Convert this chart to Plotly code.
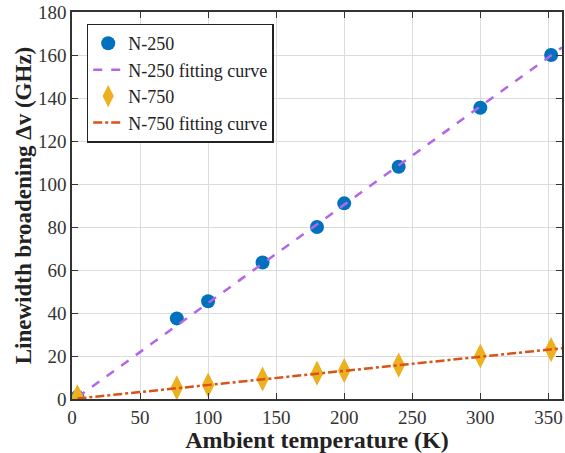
import plotly.graph_objects as go

temp_250 = [4, 77, 100, 140, 180, 200, 240, 300, 352]
lw_250 = [1.0, 37.5, 45.5, 63.5, 80, 91, 108, 135.5, 160]
temp_750 = [4, 77, 100, 140, 180, 200, 240, 300, 352]
lw_750 = [1.0, 5.2, 6.5, 9.3, 12, 13.2, 15.8, 20, 23]
fit_x = [4, 360]
fit_250 = [0.8, 163.5]
fit_750 = [0.2, 23.6]

serif = "Times New Roman, Liberation Serif, Tinos, serif"

fig = go.Figure()
fig.add_trace(go.Scatter(x=temp_250, y=lw_250, mode="markers", name="N-250",
                         marker=dict(symbol="circle", size=14, color="#0072BD")))
fig.add_trace(go.Scatter(x=fit_x, y=fit_250, mode="lines", name="N-250 fitting curve",
                         line=dict(color="#B366E6", width=2.5, dash="dash")))
fig.add_trace(go.Scatter(x=temp_750, y=lw_750, mode="markers", name="N-750",
                         marker=dict(symbol="diamond-tall", size=18, color="#EDB120")))
fig.add_trace(go.Scatter(x=fit_x, y=fit_750, mode="lines", name="N-750 fitting curve",
                         line=dict(color="#D95319", width=2.5, dash="dashdot")))

axis_common = dict(showgrid=True, gridcolor="#DCDCDC", gridwidth=1,
                   showline=True, linecolor="#333333", linewidth=1.5, mirror="ticks",
                   ticks="inside", ticklen=6, tickcolor="#333333", zeroline=False,
                   tickfont=dict(family=serif, size=19, color="#333333"))

fig.update_layout(
    width=565, height=453,
    margin=dict(l=72, r=1, t=12, b=54),
    plot_bgcolor="white", paper_bgcolor="white",
    showlegend=True,
    legend=dict(x=0.03, y=0.97, xanchor="left", yanchor="top",
                bgcolor="white", bordercolor="#222222", borderwidth=1.5,
                font=dict(family=serif, size=18, color="#222222"),
                tracegroupgap=0, itemwidth=30),
    xaxis=dict(range=[0, 360], tickvals=[0, 50, 100, 150, 200, 250, 300, 350],
               ticklabelstandoff=0,
               title=dict(text="<b>Ambient temperature (K)</b>", standoff=3,
                          font=dict(family=serif, size=24, color="#222222")),
               **axis_common),
    yaxis=dict(range=[0, 180], tickvals=list(range(0, 181, 20)),
               title=dict(text="<b>Linewidth broadening Δv (GHz)</b>", standoff=0,
                          font=dict(family=serif, size=23, color="#222222")),
               **axis_common),
)

fig.write_html("out.html")
